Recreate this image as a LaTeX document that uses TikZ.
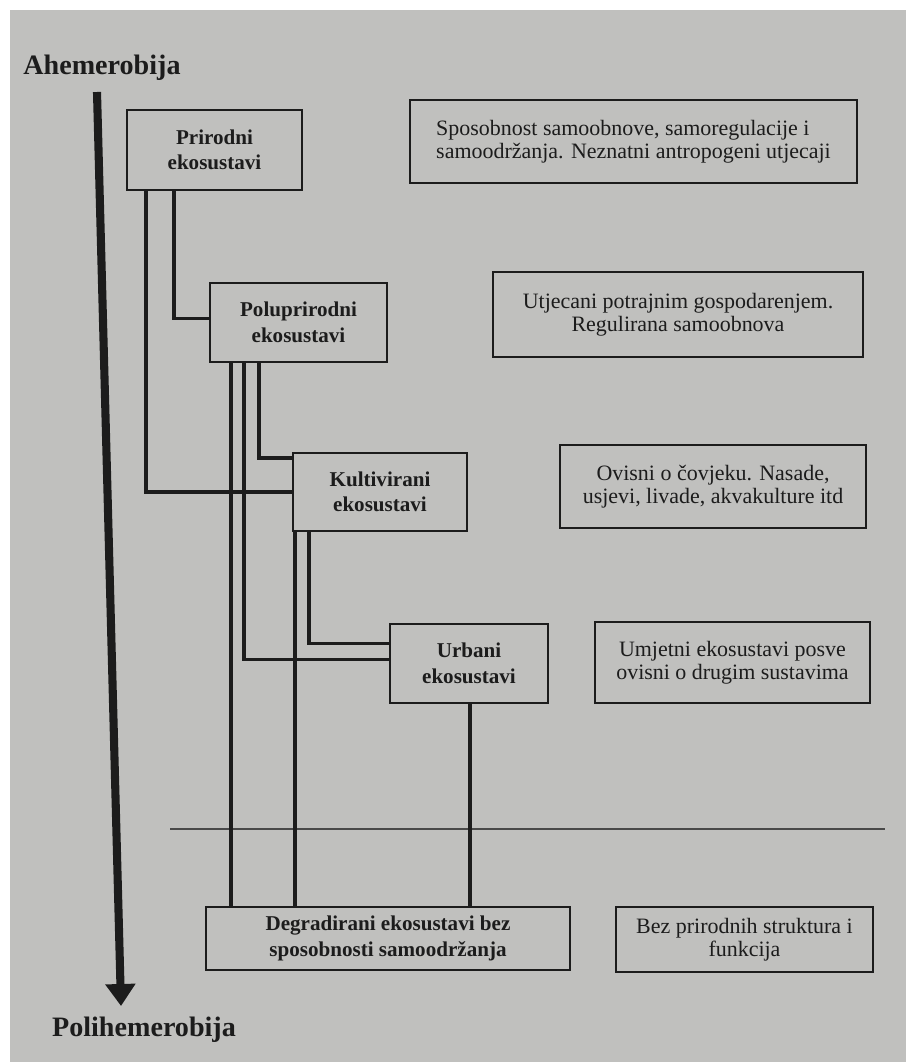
\documentclass[tikz,border=0pt]{standalone}
\usepackage{fontspec}
\setmainfont{Liberation Serif}
\usetikzlibrary{arrows.meta,calc}
\definecolor{paper}{RGB}{192,192,190}
\definecolor{ink}{RGB}{28,28,28}

\begin{document}
\begin{tikzpicture}
  [x=0.02cm,y=-0.02cm,
   every node/.style={text=ink,inner sep=0pt},
   box/.style 2 args={minimum width=#1*0.02cm,minimum height=#2*0.02cm},
   sys/.style={draw=ink,line width=1.4pt,align=center,font=\bfseries\fontsize{12}{14.5}\selectfont},
   note/.style={draw=ink,line width=1.4pt,align=center,font=\fontsize{12.5}{13}\selectfont},
   axlabel/.style={font=\bfseries\fontsize{16}{18}\selectfont},
   link/.style={draw=ink,line width=2pt}]
  \useasboundingbox (0,0) rectangle (906,1062);
  \fill[paper] (10,10) rectangle (906,1062);
  % axis
  \coordinate (axtop) at (97,92);
  \coordinate (axbot) at (121,1006);
  \draw[ink,line width=4.6pt,-{Triangle[width=0.58cm,length=0.44cm]}] (axtop) -- (axbot);
  \node[axlabel] (lahem) at (102,68) {Ahemerobija};
  \node[axlabel] (lpoli) at (144,1030) {Polihemerobija};
  % ecosystems
  \node[sys,box={175}{80}] (nprir) at (214.5,150) {Prirodni\\ekosustavi};
  \node[sys,box={177}{79}] (npolu) at (298.5,322.5) {Poluprirodni\\ekosustavi};
  \node[sys,box={174}{78}] (nkult) at (380,492) {Kultivirani\\ekosustavi};
  \node[sys,box={158}{79}] (nurb) at (469,663.5) {Urbani\\ekosustavi};
  \node[sys,box={364}{63}] (ndeg) at (388,938.5) {Degradirani ekosustavi bez\\sposobnosti samoodržanja};
  % descriptions
  \node[note,box={447}{83},align=left] (dprir) at (633.5,141.5) {Sposobnost samoobnove, samoregulacije i\\samoodržanja. Neznatni antropogeni utjecaji};
  \node[note,box={370}{85}] (dpolu) at (678,314.5) {Utjecani potrajnim gospodarenjem.\\Regulirana samoobnova};
  \node[note,box={306}{83}] (dkult) at (713,486.5) {Ovisni o čovjeku. Nasade,\\usjevi, livade, akvakulture itd};
  \node[note,box={275}{81}] (durb) at (732.5,662.5) {Umjetni ekosustavi posve\\ovisni o drugim sustavima};
  \node[note,box={257}{65}] (ddeg) at (744.5,939.5) {Bez prirodnih struktura i\\funkcija};
  % boundary
  \coordinate (sepl) at (170,829);
  \coordinate (sepr) at (885,829);
  \draw[ink!80,line width=0.7pt] (sepl) -- (sepr);
  % links
  \draw[link] ($(nprir.south west)+(20,0)$) |- (nkult.west);
  \draw[link] ($(nprir.south west)+(48,0)$) |- ($(npolu.west)+(0,-4)$);
  \draw[link] ($(npolu.south west)+(50,0)$) |- ($(nkult.north west)+(0,6)$);
  \draw[link] ($(npolu.south west)+(35,0)$) |- ($(nurb.west)+(0,-4)$);
  \draw[link] ($(nkult.south west)+(17,0)$) |- ($(nurb.west)+(0,-20)$);
  \foreach \n/\dx in {npolu/22,nkult/3,nurb/81}
    \draw[link] ($(\n.south west)+(\dx,0)$) coordinate (t) -- (t |- ndeg.north);
\end{tikzpicture}
\end{document}
